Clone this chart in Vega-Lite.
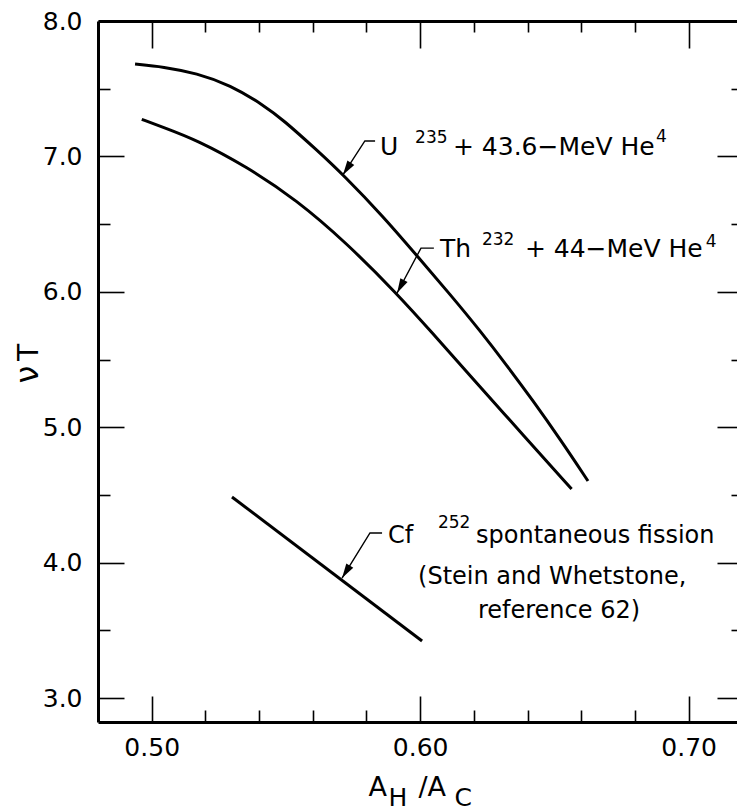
{
  "$schema": "https://vega.github.io/schema/vega-lite/v6.json",
  "width": 639,
  "height": 701,
  "autosize": {"type": "none"},
  "padding": {"left": 98, "top": 21, "right": 0, "bottom": 89},
  "background": "white",
  "config": {
    "view": {"stroke": null},
    "font": "DejaVu Sans",
    "axis": {
      "domainColor": "black",
      "domainWidth": 3,
      "tickColor": "black",
      "tickWidth": 1.6,
      "labelColor": "black",
      "labelFont": "DejaVu Sans",
      "labelFontSize": 25,
      "labelFlush": false,
      "labelOverlap": false,
      "titleColor": "black",
      "titleFont": "DejaVu Sans",
      "titleFontWeight": "normal",
      "grid": false
    }
  },
  "datasets": {
    "curves": [
      {"series": "U235", "x": 0.4938, "y": 7.682},
      {"series": "U235", "x": 0.5043, "y": 7.662},
      {"series": "U235", "x": 0.5168, "y": 7.614},
      {"series": "U235", "x": 0.5292, "y": 7.527},
      {"series": "U235", "x": 0.5416, "y": 7.38},
      {"series": "U235", "x": 0.549, "y": 7.269},
      {"series": "U235", "x": 0.5615, "y": 7.047},
      {"series": "U235", "x": 0.5714, "y": 6.863},
      {"series": "U235", "x": 0.5863, "y": 6.555},
      {"series": "U235", "x": 0.5992, "y": 6.257},
      {"series": "U235", "x": 0.6111, "y": 5.982},
      {"series": "U235", "x": 0.6223, "y": 5.713},
      {"series": "U235", "x": 0.6323, "y": 5.456},
      {"series": "U235", "x": 0.642, "y": 5.196},
      {"series": "U235", "x": 0.6521, "y": 4.912},
      {"series": "U235", "x": 0.6625, "y": 4.603},
      {"series": "Th232", "x": 0.4963, "y": 7.274},
      {"series": "Th232", "x": 0.5043, "y": 7.215},
      {"series": "Th232", "x": 0.5168, "y": 7.121},
      {"series": "Th232", "x": 0.5354, "y": 6.924},
      {"series": "Th232", "x": 0.554, "y": 6.678},
      {"series": "Th232", "x": 0.5726, "y": 6.36},
      {"series": "Th232", "x": 0.5912, "y": 5.989},
      {"series": "Th232", "x": 0.6049, "y": 5.688},
      {"series": "Th232", "x": 0.6173, "y": 5.408},
      {"series": "Th232", "x": 0.6397, "y": 4.913},
      {"series": "Th232", "x": 0.6564, "y": 4.544},
      {"series": "Cf252", "x": 0.5299, "y": 4.485},
      {"series": "Cf252", "x": 0.6007, "y": 3.421}
    ],
    "leaders": [
      {"series": "U235", "x": 0.5832, "y": 7.114},
      {"series": "U235", "x": 0.5794, "y": 7.114},
      {"series": "U235", "x": 0.5712, "y": 6.863},
      {"series": "Th232", "x": 0.6051, "y": 6.323},
      {"series": "Th232", "x": 0.6003, "y": 6.323},
      {"series": "Th232", "x": 0.5914, "y": 5.991},
      {"series": "Cf252", "x": 0.5858, "y": 4.219},
      {"series": "Cf252", "x": 0.5813, "y": 4.219},
      {"series": "Cf252", "x": 0.5709, "y": 3.886}
    ],
    "tips": [
      {"series": "U235", "x": 0.5712, "y": 6.863},
      {"series": "Th232", "x": 0.5914, "y": 5.991},
      {"series": "Cf252", "x": 0.5709, "y": 3.886}
    ],
    "labels": [
      {"series": "U235", "label": "U", "x": 0.585, "y": 7.01},
      {"series": "U235", "label": "+ 43.6−MeV He", "x": 0.6122, "y": 7.01},
      {"series": "Th232", "label": "Th", "x": 0.6074, "y": 6.257},
      {"series": "Th232", "label": "+ 44−MeV He", "x": 0.639, "y": 6.257},
      {"series": "Cf252", "label": "Cf", "x": 0.588, "y": 4.145},
      {"series": "Cf252", "label": "spontaneous fission", "x": 0.6208, "y": 4.145},
      {"series": "Cf252", "label": "(Stein and Whetstone,", "x": 0.5992, "y": 3.842},
      {"series": "Cf252", "label": "reference 62)", "x": 0.6215, "y": 3.591}
    ],
    "superscripts": [
      {"label": "235", "x": 0.5981, "y": 7.099},
      {"label": "4", "x": 0.6878, "y": 7.106},
      {"label": "232", "x": 0.623, "y": 6.346},
      {"label": "4", "x": 0.7064, "y": 6.331},
      {"label": "252", "x": 0.6066, "y": 4.256}
    ]
  },
  "layer": [
    {
      "data": {"name": "curves"},
      "mark": {"type": "line", "color": "black", "strokeWidth": 3, "interpolate": "basis"},
      "encoding": {
        "x": {"field": "x", "type": "quantitative", "scale": {"domain": [0.48, 0.718], "nice": false, "zero": false},
          "axis": {"orient": "bottom", "values": [0.5, 0.6, 0.7], "format": ".2f", "ticks": false, "labelPadding": 13,
            "title": "A", "titleX": 270, "titleY": 73, "titleAlign": "left", "titleBaseline": "alphabetic", "titleFontSize": 27, "titleAngle": 0}},
        "y": {"field": "y", "type": "quantitative", "scale": {"domain": [2.823, 8], "nice": false, "zero": false},
          "axis": {"orient": "left", "values": [3, 4, 5, 6, 7, 8], "format": ".1f", "ticks": false, "labelPadding": 16,
            "title": "ν", "titleX": -61, "titleY": 353, "titleAlign": "center", "titleBaseline": "alphabetic", "titleAngle": 270, "titleFontSize": 32}},
        "detail": {"field": "series"}
      }
    },
    {
      "data": {"name": "leaders"},
      "mark": {"type": "line", "color": "black", "strokeWidth": 1.4},
      "encoding": {
        "x": {"field": "x", "type": "quantitative", "scale": {"domain": [0.48, 0.718], "nice": false, "zero": false},
          "axis": {"orient": "bottom", "values": [0.5, 0.6, 0.7], "labels": false, "domain": false, "tickSize": 26, "offset": -26, "title": null}},
        "y": {"field": "y", "type": "quantitative", "scale": {"domain": [2.823, 8], "nice": false, "zero": false},
          "axis": {"orient": "left", "values": [3, 4, 5, 6, 7, 8], "labels": false, "domain": false, "tickSize": 26, "offset": -26, "title": null}},
        "detail": {"field": "series"}
      }
    },
    {
      "data": {"name": "tips"},
      "transform": [{"filter": "datum.series == 'U235'"}],
      "mark": {"type": "point", "filled": true, "color": "black", "opacity": 1, "size": 380, "angle": 33, "shape": "M0,0L0.42,-1.5L-0.42,-1.5Z"},
      "encoding": {
        "x": {"field": "x", "type": "quantitative", "scale": {"domain": [0.48, 0.718], "nice": false, "zero": false},
          "axis": {"orient": "bottom", "values": [0.52, 0.54, 0.56, 0.58, 0.62, 0.64, 0.66, 0.68], "labels": false, "domain": false, "tickSize": 12, "offset": -12,
            "title": "H", "titleX": 290, "titleY": 95, "titleAlign": "left", "titleBaseline": "alphabetic", "titleFontSize": 25, "titleAngle": 0}},
        "y": {"field": "y", "type": "quantitative", "scale": {"domain": [2.823, 8], "nice": false, "zero": false},
          "axis": {"orient": "left", "values": [3.5, 4.5, 5.5, 6.5, 7.5], "labels": false, "domain": false, "tickSize": 12, "offset": -12,
            "title": "T", "titleX": -73, "titleY": 331, "titleAlign": "center", "titleBaseline": "alphabetic", "titleAngle": 270, "titleFontSize": 28}}
      }
    },
    {
      "data": {"name": "tips"},
      "transform": [{"filter": "datum.series == 'Th232'"}],
      "mark": {"type": "point", "filled": true, "color": "black", "opacity": 1, "size": 380, "angle": 28, "shape": "M0,0L0.42,-1.5L-0.42,-1.5Z"},
      "encoding": {
        "x": {"field": "x", "type": "quantitative", "scale": {"domain": [0.48, 0.718], "nice": false, "zero": false},
          "axis": {"orient": "top", "values": [0.5, 0.6, 0.7], "labels": false, "ticks": false,
            "title": "/A", "titleX": 320, "titleY": 774, "titleAlign": "left", "titleBaseline": "alphabetic", "titleFontSize": 27, "titleAngle": 0}},
        "y": {"field": "y", "type": "quantitative", "scale": {"domain": [2.823, 8], "nice": false, "zero": false},
          "axis": {"orient": "right", "values": [3, 4, 5, 6, 7, 8], "labels": false, "domain": false, "tickSize": 20, "offset": -20, "title": null}}
      }
    },
    {
      "data": {"name": "tips"},
      "transform": [{"filter": "datum.series == 'Cf252'"}],
      "mark": {"type": "point", "filled": true, "color": "black", "opacity": 1, "size": 380, "angle": 32, "shape": "M0,0L0.42,-1.5L-0.42,-1.5Z"},
      "encoding": {
        "x": {"field": "x", "type": "quantitative", "scale": {"domain": [0.48, 0.718], "nice": false, "zero": false},
          "axis": {"orient": "top", "values": [0.5, 0.6, 0.7], "labels": false, "domain": false, "tickSize": 27, "offset": -27, "title": null}},
        "y": {"field": "y", "type": "quantitative", "scale": {"domain": [2.823, 8], "nice": false, "zero": false},
          "axis": {"orient": "right", "values": [3.5, 4.5, 5.5, 6.5, 7.5], "labels": false, "domain": false, "tickSize": 6, "offset": -6, "title": null}}
      }
    },
    {
      "data": {"name": "labels"},
      "transform": [{"filter": "datum.series != 'Cf252'"}],
      "mark": {"type": "text", "align": "left", "baseline": "alphabetic", "font": "DejaVu Sans", "fontSize": 25, "color": "black"},
      "encoding": {
        "x": {"field": "x", "type": "quantitative", "scale": {"domain": [0.48, 0.718], "nice": false, "zero": false},
          "axis": {"orient": "top", "values": [0.52, 0.54, 0.56, 0.58, 0.62, 0.64, 0.66, 0.68], "labels": false, "domain": false, "tickSize": 11, "offset": -11,
            "title": "C", "titleX": 356, "titleY": 773, "titleAlign": "left", "titleBaseline": "alphabetic", "titleFontSize": 25, "titleAngle": 0}},
        "y": {"field": "y", "type": "quantitative", "scale": {"domain": [2.823, 8], "nice": false, "zero": false}, "axis": null},
        "text": {"field": "label"}
      }
    },
    {
      "data": {"name": "labels"},
      "transform": [{"filter": "datum.series == 'Cf252'"}],
      "mark": {"type": "text", "align": "left", "baseline": "alphabetic", "font": "DejaVu Sans", "fontSize": 24, "color": "black"},
      "encoding": {
        "x": {"field": "x", "type": "quantitative", "scale": {"domain": [0.48, 0.718], "nice": false, "zero": false}, "axis": null},
        "y": {"field": "y", "type": "quantitative", "scale": {"domain": [2.823, 8], "nice": false, "zero": false}, "axis": null},
        "text": {"field": "label"}
      }
    },
    {
      "data": {"name": "superscripts"},
      "mark": {"type": "text", "align": "left", "baseline": "alphabetic", "font": "DejaVu Sans", "fontSize": 17, "color": "black"},
      "encoding": {
        "x": {"field": "x", "type": "quantitative", "scale": {"domain": [0.48, 0.718], "nice": false, "zero": false}, "axis": null},
        "y": {"field": "y", "type": "quantitative", "scale": {"domain": [2.823, 8], "nice": false, "zero": false}, "axis": null},
        "text": {"field": "label"}
      }
    }
  ],
  "resolve": {"axis": {"x": "independent", "y": "independent"}}
}
